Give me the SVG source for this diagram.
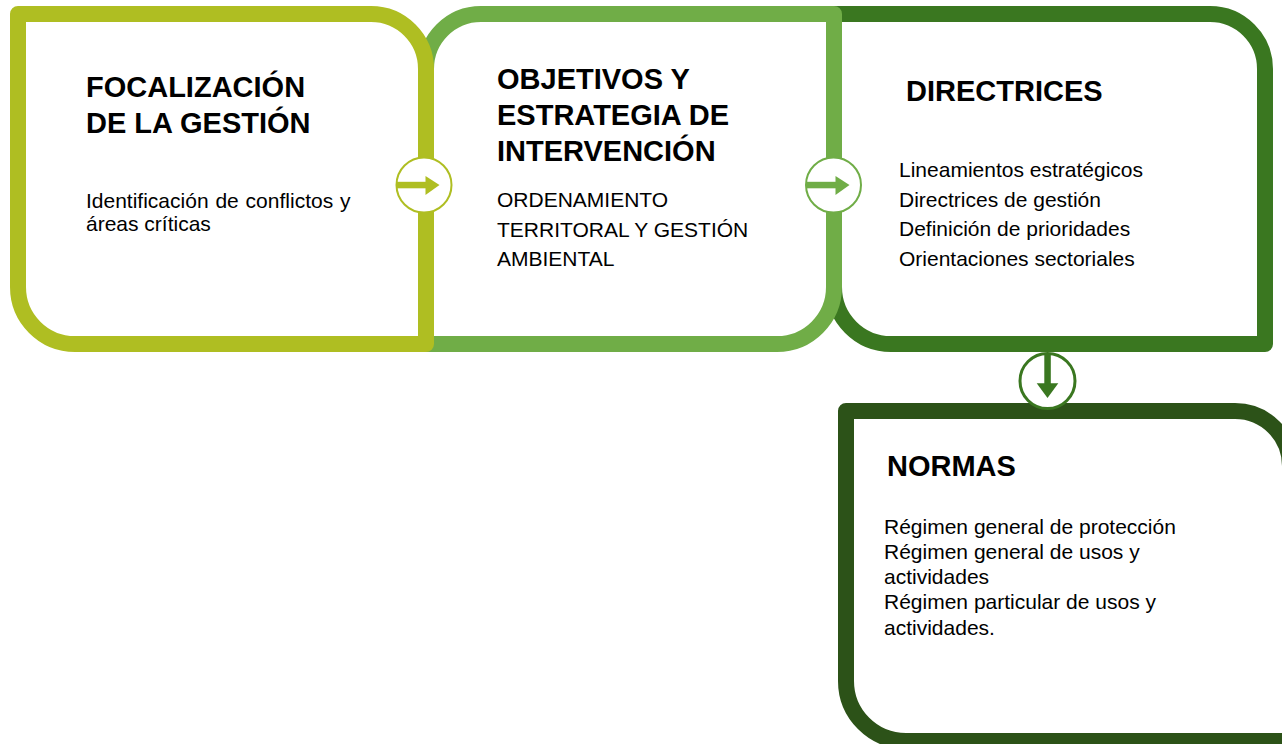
<svg xmlns="http://www.w3.org/2000/svg" width="1282" height="744" viewBox="0 0 1282 744">
<style>
.box{fill:#ffffff;stroke-width:16;stroke-linejoin:round}
.t{font-family:"Liberation Sans",Arial,sans-serif;font-weight:bold;font-size:29px;fill:#000}
.b{font-family:"Liberation Sans",Arial,sans-serif;font-size:21px;fill:#000}
.ring{fill:#ffffff}
</style>
<rect x="0" y="0" width="1282" height="744" fill="#ffffff"/>
<g id="node-normas">
<path class="box" stroke="#2C5218" d="M846,411 H1235 A55,55 0 0 1 1290,466 V741 H906 A60,60 0 0 1 846,681 Z"/>
<text class="t" x="887" y="476">NORMAS</text>
<text class="b" x="884" y="534">Régimen general de protección</text>
<text class="b" x="884" y="559">Régimen general de usos y</text>
<text class="b" x="884" y="584">actividades</text>
<text class="b" x="884" y="609">Régimen particular de usos y</text>
<text class="b" x="884" y="635">actividades.</text>
</g>
<g id="node-directrices">
<path class="box" stroke="#3A7720" d="M834,14 H1210 A55,55 0 0 1 1265,69 V344 H891 A57,57 0 0 1 834,287 Z"/>
<text class="t" x="906" y="101">DIRECTRICES</text>
<text class="b" x="899" y="177">Lineamientos estratégicos</text>
<text class="b" x="899" y="206.5">Directrices de gestión</text>
<text class="b" x="899" y="236">Definición de prioridades</text>
<text class="b" x="899" y="265.5">Orientaciones sectoriales</text>
</g>
<g id="node-objetivos">
<path class="box" stroke="#70AD47" d="M426,69 A55,55 0 0 1 481,14 H834 V287 A57,57 0 0 1 777,344 H426 Z"/>
<text class="t" x="497" y="89">OBJETIVOS Y</text>
<text class="t" x="497" y="125">ESTRATEGIA DE</text>
<text class="t" x="497" y="161">INTERVENCIÓN</text>
<text class="b" x="497" y="206.5">ORDENAMIENTO</text>
<text class="b" x="497" y="236.5">TERRITORAL Y GESTIÓN</text>
<text class="b" x="497" y="265.5">AMBIENTAL</text>
</g>
<g id="node-focalizacion">
<path class="box" stroke="#AFBE22" d="M18,14 H371 A55,55 0 0 1 426,69 V344 H75 A57,57 0 0 1 18,287 Z"/>
<text class="t" x="86" y="97">FOCALIZACIÓN</text>
<text class="t" x="86" y="133">DE LA GESTIÓN</text>
<text class="b" x="86" y="208" word-spacing="1">Identificación de conflictos y</text>
<text class="b" x="86" y="230.5">áreas críticas</text>
</g>
<g id="connectors">
<g id="arrow-1-2">
<circle class="ring" cx="424" cy="185" r="27.5" stroke="#AFBE22" stroke-width="2"/>
<rect x="396.5" y="181.8" width="30" height="6.5" fill="#AFBE22"/>
<polygon points="425.5,176 439.5,185 425.5,195" fill="#AFBE22"/>
</g>
<g id="arrow-2-3">
<circle class="ring" cx="833.5" cy="185" r="27.5" stroke="#70AD47" stroke-width="2"/>
<rect x="806" y="181.8" width="30" height="6.5" fill="#70AD47"/>
<polygon points="835.5,176 849.5,185 835.5,195" fill="#70AD47"/>
</g>
<g id="arrow-3-4">
<circle class="ring" cx="1047.5" cy="381" r="27.5" stroke="#3A7720" stroke-width="3"/>
<rect x="1044.3" y="353" width="6.5" height="31" fill="#3A7720"/>
<polygon points="1036.7,383.3 1058.3,383.3 1047.5,398" fill="#3A7720"/>
</g>
</g>
</svg>
